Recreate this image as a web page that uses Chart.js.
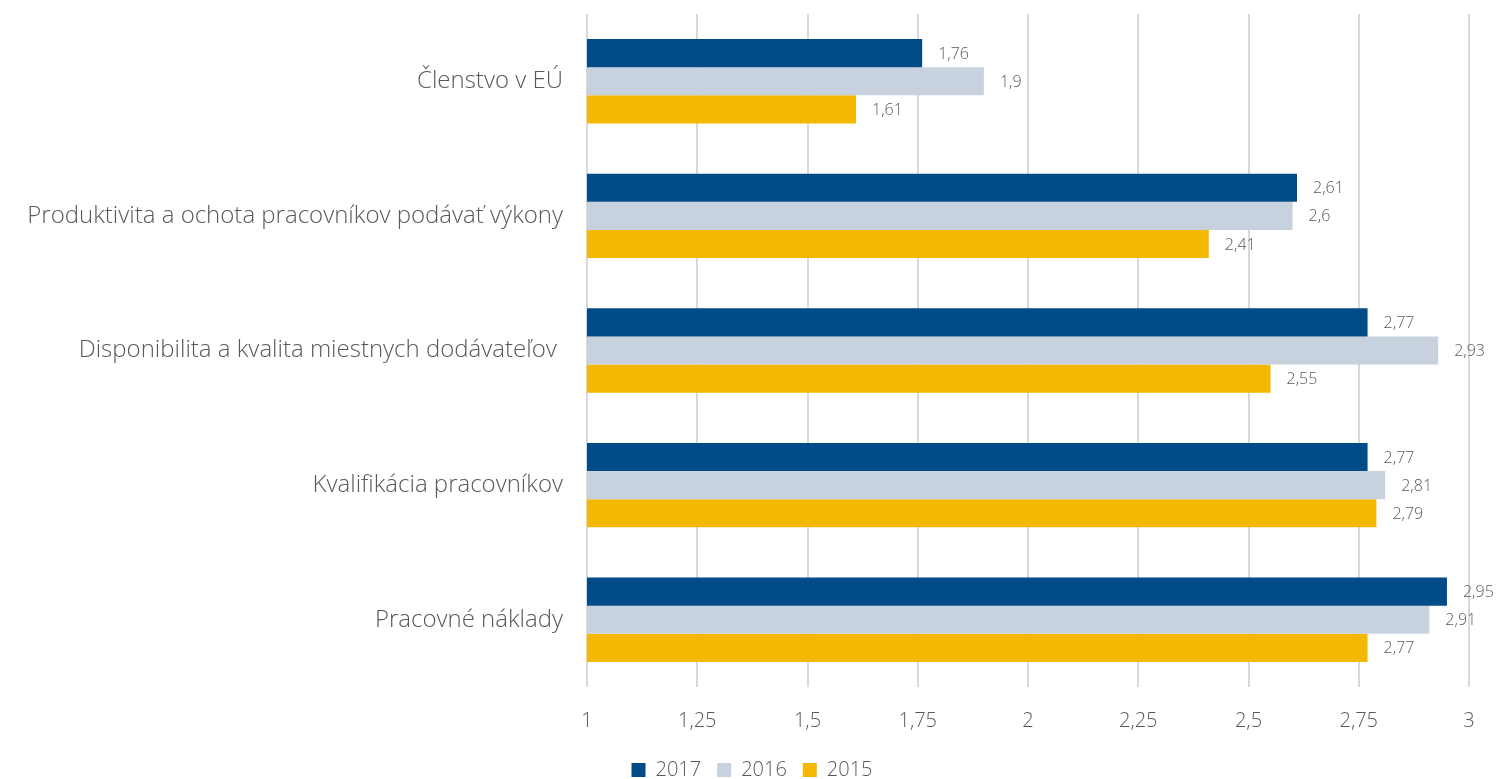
<!DOCTYPE html>
<html lang="sk">
<head>
<meta charset="UTF-8">
<title>Chart</title>
<script src="https://cdn.jsdelivr.net/npm/chart.js@4.4.0/dist/chart.umd.min.js"></script>
<style>
  html, body { margin: 0; padding: 0; background: #fff; }
  #wrap { width: 1504px; height: 779px; }
</style>
</head>
<body>
<div id="wrap"><canvas id="chart"></canvas></div>
<script>
const categories = [
  "Členstvo v EÚ",
  "Produktivita a ochota pracovníkov podávať výkony",
  "Disponibilita a kvalita miestnych dodávateľov ",
  "Kvalifikácia pracovníkov",
  "Pracovné náklady"
];
const years = ["2017", "2016", "2015"];
const values2017 = [1.76, 2.61, 2.77, 2.77, 2.95];
const values2016 = [1.9, 2.6, 2.93, 2.81, 2.91];
const values2015 = [1.61, 2.41, 2.55, 2.79, 2.77];
const xTicks = [1, 1.25, 1.5, 1.75, 2, 2.25, 2.5, 2.75, 3];

const colors = ["#004B88", "#C8D2DF", "#F5B800"];
const textColor = "#595959";
const fontFamily = "'Open Sans', Lato, sans-serif";

function fmt(v) { return String(v).replace(".", ","); }

// draws value labels just past the end of every bar
const valueLabels = {
  id: "valueLabels",
  afterDatasetsDraw(chart) {
    const ctx = chart.ctx;
    ctx.save();
    ctx.font = "300 16px " + fontFamily;
    ctx.fillStyle = textColor;
    ctx.textAlign = "left";
    ctx.textBaseline = "middle";
    chart.data.datasets.forEach((ds, i) => {
      chart.getDatasetMeta(i).data.forEach((bar, j) => {
        ctx.fillText(fmt(ds.data[j]), bar.x + 16, bar.y + 1);
      });
    });
    ctx.restore();
  }
};

new Chart(document.getElementById("chart"), {
  type: "bar",
  data: {
    labels: categories,
    datasets: [
      { label: years[0], data: values2017, backgroundColor: colors[0] },
      { label: years[1], data: values2016, backgroundColor: colors[1] },
      { label: years[2], data: values2015, backgroundColor: colors[2] }
    ]
  },
  options: {
    indexAxis: "y",
    responsive: true,
    maintainAspectRatio: false,
    animation: false,
    layout: { padding: { top: 14, right: 0, left: 0, bottom: -11 } },
    datasets: { bar: { categoryPercentage: 0.627, barPercentage: 1 } },
    scales: {
      x: {
        min: 1, max: 3,
        afterBuildTicks(scale) { scale.ticks = xTicks.map(v => ({ value: v })); },
        grid: { color: "#D9D9D9", lineWidth: 2, drawTicks: false },
        border: { display: false },
        ticks: {
          padding: 22,
          color: textColor,
          font: { family: fontFamily, size: 20, weight: 300 },
          callback: v => fmt(v)
        },
        afterFit(scale) {
          scale.height = 57;
          scale.paddingRight = 35;
        }
      },
      y: {
        grid: { display: false, drawTicks: false },
        border: { display: false },
        ticks: {
          padding: 24,
          color: textColor,
          font: { family: fontFamily, size: 24, weight: 300 }
        },
        afterFit(scale) {
          scale.width = 587;
          scale.paddingTop = 0;
          scale.paddingBottom = 0;
        }
      }
    },
    plugins: {
      legend: {
        position: "bottom",
        labels: {
          boxWidth: 14,
          boxHeight: 14,
          padding: 16,
          color: textColor,
          font: { family: fontFamily, size: 20, weight: 300 }
        }
      },
      tooltip: { enabled: false }
    }
  },
  plugins: [valueLabels]
});
</script>
</body>
</html>
